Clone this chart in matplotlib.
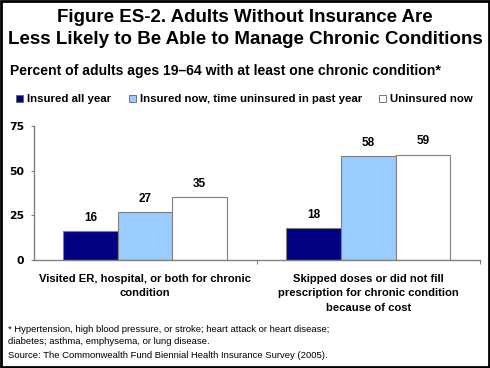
import matplotlib
matplotlib.use("Agg")
import matplotlib.pyplot as plt
import matplotlib.transforms as mtransforms
import numpy as np
from matplotlib.patches import Rectangle

categories = ["Visited ER, hospital, or both for chronic\ncondition",
              "Skipped doses or did not fill\nprescription for chronic condition\nbecause of cost"]
series_names = ["Insured all year", "Insured now, time uninsured in past year", "Uninsured now"]
insured_all_year = [16, 18]
insured_now_gap = [27, 58]
uninsured_now = [35, 59]
yticks = [0, 25, 50, 75]

colors = ["#000080", "#99CCFF", "#FFFFFF"]
plt.rcParams['font.family'] = ['Liberation Sans', 'DejaVu Sans']

W, H = 490, 368
fig = plt.figure(figsize=(W/100, H/100), dpi=100)

def fx(px): return px / W
def fy(py): return 1 - py / H

ax = fig.add_axes([fx(33.5), fy(260), fx(480) - fx(33.5), fy(126) - fy(260)])
x = np.arange(len(categories))
bw = 0.245
series = [insured_all_year, insured_now_gap, uninsured_now]
for i, (vals, c) in enumerate(zip(series, colors)):
    bars = ax.bar(x + (i - 1) * bw, vals, bw, color=c, edgecolor="#808080", linewidth=0.8, zorder=2)
    for b, v in zip(bars, vals):
        ax.text(b.get_x() + b.get_width() / 2, v + 4, str(v), ha="center", va="bottom",
                fontsize=8.5, fontweight="bold")

ax.set_xlim(-0.5, 1.5)
ax.set_ylim(0, 75)
ax.set_yticks(yticks)
ax.set_yticklabels([str(t) for t in yticks], fontsize=7.8, fontweight="bold", family="DejaVu Sans")
ax.set_xticks([0.5, 1.5])
ax.set_xticklabels([])
ax.tick_params(axis="x", length=3, color="#808080", direction="out")
ax.tick_params(axis="y", length=2.2, color="#808080", direction="out", pad=4.3)
for s in ["top", "right"]:
    ax.spines[s].set_visible(False)
for s in ["left", "bottom"]:
    ax.spines[s].set_color("#808080")
    ax.spines[s].set_linewidth(1.0)

trans = mtransforms.blended_transform_factory(ax.transData, fig.transFigure)
for xi, lab in zip(x, categories):
    ax.text(xi, fy(273.5), lab, transform=trans, ha="center", va="top",
            fontsize=8.1, fontweight="bold", linespacing=1.6)

fig.text(0.5, fy(18), "Figure ES-2. Adults Without Insurance Are", ha="center", va="center",
         fontsize=13.5, fontweight="bold")
fig.text(0.5, fy(39), "Less Likely to Be Able to Manage Chronic Conditions", ha="center", va="center",
         fontsize=13.5, fontweight="bold")
fig.text(fx(10), fy(71), "Percent of adults ages 19\u201364 with at least one chronic condition*",
         ha="left", va="center", fontsize=10.1, fontweight="bold")

leg_x = [16, 129, 379]
for lx, name, c in zip(leg_x, series_names, colors):
    fig.patches.append(Rectangle((fx(lx), fy(102)), fx(7), 7 / H, transform=fig.transFigure,
                                 facecolor=c, edgecolor="#606060", linewidth=0.6))
    fig.text(fx(lx + 11), fy(98.5), name, ha="left", va="center", fontsize=8.2, fontweight="bold")

fig.text(fx(8), fy(330), "* Hypertension, high blood pressure, or stroke; heart attack or heart disease;",
         ha="left", va="center", fontsize=6.8)
fig.text(fx(8), fy(341.5), "diabetes; asthma, emphysema, or lung disease.", ha="left", va="center", fontsize=6.8)
fig.text(fx(8), fy(356), "Source: The Commonwealth Fund Biennial Health Insurance Survey (2005).",
         ha="left", va="center", fontsize=6.8)

fig.patches.append(Rectangle((0.002, 0.003), 0.996, 0.994, transform=fig.transFigure,
                             fill=False, edgecolor="black", linewidth=2))

fig.savefig("out.png", dpi=100)
